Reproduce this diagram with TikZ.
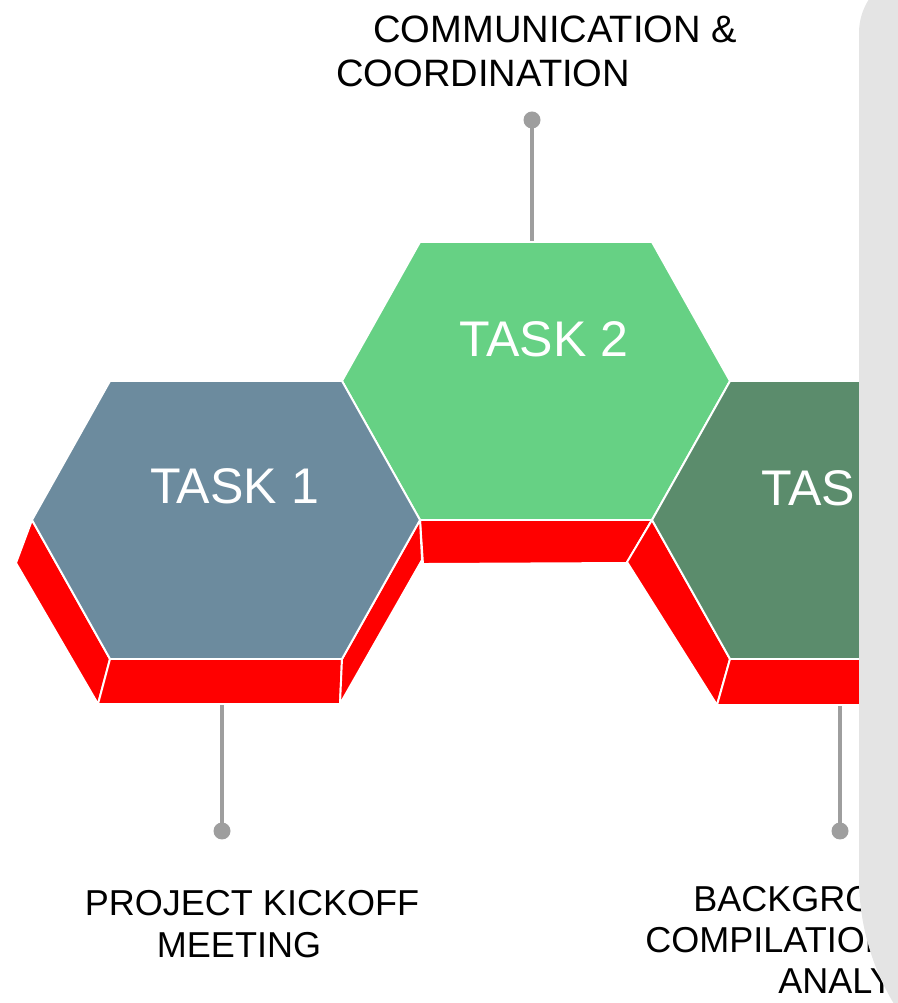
\documentclass[tikz,border=0pt]{standalone}
\usepackage{fontspec}
\setmainfont{Liberation Sans}
\usetikzlibrary{calc}
\usetikzlibrary{positioning}

\definecolor{taskone}{RGB}{108,139,158}
\definecolor{tasktwo}{RGB}{102,209,132}
\definecolor{taskthree}{RGB}{91,140,108}
\definecolor{sidered}{RGB}{255,0,0}
\definecolor{stemgrey}{RGB}{158,158,158}
\definecolor{panelgrey}{RGB}{228,228,228}

\tikzset{
  hexface/.style={draw=white,line width=1.1pt,line join=round},
  redside/.style={fill=sidered,draw=white,line width=1.1pt,line join=round},
  stem/.style={draw=stemgrey,line width=2.3pt},
  tasklabel/.style={text=white,font=\fontsize{28.5}{31}\selectfont,inner sep=0pt},
  steplabel/.style={text=black,font=\fontsize{20.5}{23.5}\selectfont,inner sep=0pt},
}

\begin{document}
\begin{tikzpicture}

\coordinate (LEFTCORNER) at (0,0);
\useasboundingbox (LEFTCORNER) rectangle ++(17.94,20.06);
\node at (LEFTCORNER) (input) {};

\coordinate (HEX1) at ($(input)+(4.52,9.66)$);
\coordinate (HEX2) at ($(input)+(10.72,12.44)$);
\coordinate (HEX3) at ($(input)+(16.92,9.66)$);

%%%%%%%%%%%%%%%%%%%%%

%draw stems with dots (under the hexagons)
\coordinate (FOOT1) at ($(HEX1)+(-0.08,-3.4)$);
\coordinate (DOT1) at ($(HEX1)+(-0.08,-6.22)$);
\draw[stem] (FOOT1) -- (DOT1);
\fill[stemgrey] (DOT1) circle (0.17);

\coordinate (FOOT2) at ($(HEX2)+(-0.08,2.6)$);
\coordinate (DOT2) at ($(HEX2)+(-0.08,5.22)$);
\draw[stem] (FOOT2) -- (DOT2);
\fill[stemgrey] (DOT2) circle (0.17);

\coordinate (FOOT3) at ($(HEX3)+(-0.12,-3.4)$);
\coordinate (DOT3) at ($(HEX3)+(-0.12,-6.22)$);
\draw[stem] (FOOT3) -- (DOT3);
\fill[stemgrey] (DOT3) circle (0.17);

%%%%%%%

%draw hexagon 2 first, the others sit on top of it
\filldraw[redside] ($(HEX2)+(-3.88,0)$) -- ($(HEX2)+(-4.20,-0.86)$) -- ($(HEX2)+(-2.26,-3.66)$) -- ($(HEX2)+(-2.32,-2.78)$) -- cycle;
\filldraw[redside] ($(HEX2)+(-2.32,-2.78)$) -- ($(HEX2)+(-2.26,-3.66)$) -- ($(HEX2)+(1.82,-3.64)$) -- ($(HEX2)+(2.32,-2.78)$) -- cycle;
\filldraw[redside] ($(HEX2)+(2.32,-2.78)$) -- ($(HEX2)+(1.82,-3.64)$) -- ($(HEX2)+(3.92,-0.80)$) -- ($(HEX2)+(3.88,0)$) -- cycle;
\filldraw[hexface,fill=tasktwo] ($(HEX2)+(-2.32,2.78)$) -- ($(HEX2)+(2.32,2.78)$) -- ($(HEX2)+(3.88,0)$) -- ($(HEX2)+(2.32,-2.78)$) -- ($(HEX2)+(-2.32,-2.78)$) -- ($(HEX2)+(-3.88,0)$) -- cycle;

%draw hexagon 1
\filldraw[redside] ($(HEX1)+(-3.88,0)$) -- ($(HEX1)+(-4.20,-0.86)$) -- ($(HEX1)+(-2.56,-3.68)$) -- ($(HEX1)+(-2.32,-2.78)$) -- cycle;
\filldraw[redside] ($(HEX1)+(-2.32,-2.78)$) -- ($(HEX1)+(-2.56,-3.68)$) -- ($(HEX1)+(2.28,-3.68)$) -- ($(HEX1)+(2.32,-2.78)$) -- cycle;
\filldraw[redside] ($(HEX1)+(2.32,-2.78)$) -- ($(HEX1)+(2.28,-3.68)$) -- ($(HEX1)+(3.92,-0.80)$) -- ($(HEX1)+(3.88,0)$) -- cycle;
\filldraw[hexface,fill=taskone] ($(HEX1)+(-2.32,2.78)$) -- ($(HEX1)+(2.32,2.78)$) -- ($(HEX1)+(3.88,0)$) -- ($(HEX1)+(2.32,-2.78)$) -- ($(HEX1)+(-2.32,-2.78)$) -- ($(HEX1)+(-3.88,0)$) -- cycle;

%draw hexagon 3
\filldraw[redside] ($(HEX3)+(-3.88,0)$) -- ($(HEX3)+(-4.38,-0.84)$) -- ($(HEX3)+(-2.58,-3.70)$) -- ($(HEX3)+(-2.32,-2.78)$) -- cycle;
\filldraw[redside] ($(HEX3)+(-2.32,-2.78)$) -- ($(HEX3)+(-2.58,-3.70)$) -- ($(HEX3)+(2.28,-3.70)$) -- ($(HEX3)+(2.32,-2.78)$) -- cycle;
\filldraw[redside] ($(HEX3)+(2.32,-2.78)$) -- ($(HEX3)+(2.28,-3.70)$) -- ($(HEX3)+(3.92,-0.80)$) -- ($(HEX3)+(3.88,0)$) -- cycle;
\filldraw[hexface,fill=taskthree] ($(HEX3)+(-2.32,2.78)$) -- ($(HEX3)+(2.32,2.78)$) -- ($(HEX3)+(3.88,0)$) -- ($(HEX3)+(2.32,-2.78)$) -- ($(HEX3)+(-2.32,-2.78)$) -- ($(HEX3)+(-3.88,0)$) -- cycle;

%%%%%%%%%%%%%%%%%%%
%task names

\node[tasklabel] (TASK1) at ($(HEX1)+(0.17,0.68)$) {TASK 1};
\node[tasklabel] (TASK2) at ($(HEX2)+(0.16,0.84)$) {TASK 2};
\node[tasklabel] (TASK3) at ($(HEX3)+(0.0,0.64)$) {TASK 3};

%step texts
\node[steplabel,font=\fontsize{21.7}{25}\selectfont,align=left,anchor=west] (COMMUNICATION) at ($(input)+(6.72,19.04)$) {\hspace*{0.74cm}COMMUNICATION \&\\COORDINATION};
\node[steplabel,align=center] (KICKOFF) at ($(input)+(5.04,1.58)$) {PROJECT KICKOFF\\MEETING\hspace*{0.52cm}};
\node[steplabel,align=left,anchor=west] (BACKGROUND) at ($(input)+(12.90,1.26)$) {\hspace*{0.96cm}BACKGROUND\\COMPILATION \&\\\hspace*{2.66cm}ANALYSIS};

%%%%%%%%%%%%%%%%%%%%%%
%grey panel on the right covers the rest (small round top, wide round bottom)

\fill[panelgrey] ($(input)+(19.4,20.64)$) -- ++(-0.98,0) arc[start angle=90,end angle=180,radius=1.24]
  -- ($(input)+(17.18,2.50)$) arc[start angle=180,end angle=240,radius=4.88]
  -- ($(input)+(19.8,-1.8)$) -- cycle;

\end{tikzpicture}
\end{document}
